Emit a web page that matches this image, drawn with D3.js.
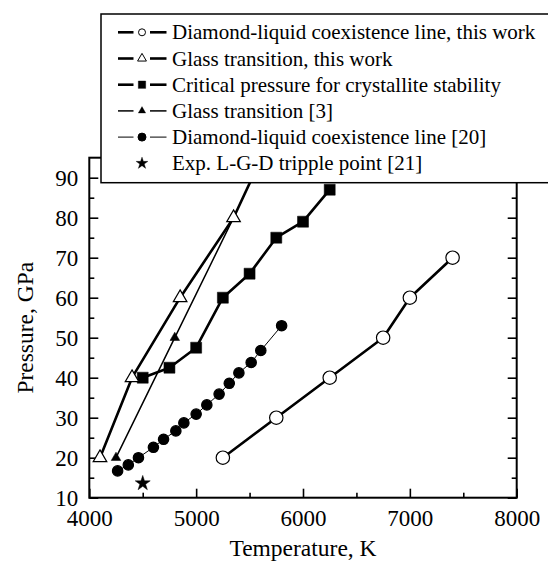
<!DOCTYPE html>
<html>
<head>
<meta charset="utf-8">
<script src="https://cdn.jsdelivr.net/npm/d3@7"></script>
<style>
  body { margin: 0; background: #fff; }
  svg { display: block; }
  svg text { font-family: "Liberation Serif", "Times New Roman", serif; }
</style>
</head>
<body>
<div id="chart"></div>
<script>
// Diamond-liquid coexistence line, this work
const dlThisT = [5250, 5750, 6250, 6750, 7000, 7400];
const dlThisP = [20, 30, 40, 50, 60, 70];
// Glass transition, this work (last point sits behind the legend)
const glThisT = [4100, 4400, 4850, 5350, 5700];
const glThisP = [20, 40, 60, 80, 100];
// Critical pressure for crystallite stability
const critT = [4500, 4750, 5000, 5250, 5500, 5750, 6000, 6250];
const critP = [40, 42.5, 47.5, 60, 66, 75, 79, 87];
// Glass transition [3]
const gl3T = [4250, 4800, 5350];
const gl3P = [20, 50, 80];
// Diamond-liquid coexistence line [20]
const dl20T = [4265, 4365, 4460, 4600, 4695, 4810, 4885, 5000, 5100, 5215, 5310, 5400, 5515, 5605, 5800];
const dl20P = [16.7, 18.2, 20.0, 22.6, 24.6, 26.7, 28.7, 30.9, 33.2, 35.9, 38.6, 41.2, 43.8, 46.8, 53.0];
// Exp. L-G-D triple point [21]
const expT = [4500];
const expP = [13.6];

const legendLabels = [
  "Diamond-liquid coexistence line, this work",
  "Glass transition, this work",
  "Critical pressure for crystallite stability",
  "Glass transition [3]",
  "Diamond-liquid coexistence line [20]",
  "Exp. L-G-D tripple point [21]"
];
const xTicks = [4000, 5000, 6000, 7000, 8000];
const yTicks = [10, 20, 30, 40, 50, 60, 70, 80, 90];

const zip = (t, p) => t.map((d, i) => ({ t: d, p: p[i] }));

const width = 548, height = 564;
const margin = { top: 157.7, right: 31.3, bottom: 66.3, left: 89.3 };
const iw = width - margin.left - margin.right;
const ih = height - margin.top - margin.bottom;

const x = d3.scaleLinear().domain([4000, 8000]).range([0, iw]);
const y = d3.scaleLinear().domain([10, 95]).range([ih, 0]);

const svg = d3.select("#chart").append("svg")
  .attr("width", width).attr("height", height);

const g = svg.append("g").attr("transform", `translate(${margin.left},${margin.top})`);

g.append("clipPath").attr("id", "clip")
  .append("rect").attr("width", iw).attr("height", ih);

// ticks (inward), majors and minors
const xMinor = d3.range(4500, 8000, 1000);
const yMinor = d3.range(15, 95, 10);

const serif = '"Liberation Serif", "Times New Roman", serif';
const styleAxis = sel => {
  sel.attr("font-family", serif).attr("font-size", 23);
  sel.select(".domain").remove();
  sel.selectAll("line").attr("stroke", "#000").attr("stroke-width", 1.6);
  sel.selectAll("text").attr("fill", "#000")
    .style("font-family", serif).style("font-size", "23px");
};

g.append("g").attr("transform", `translate(0,${ih})`)
  .call(d3.axisBottom(x).tickValues(xTicks).tickFormat(d3.format("d")).tickSize(-9).tickPadding(12))
  .call(styleAxis);
g.append("g").attr("transform", `translate(0,${ih})`)
  .call(d3.axisBottom(x).tickValues(xMinor).tickFormat("").tickSize(-5))
  .call(styleAxis);
g.append("g")
  .call(d3.axisLeft(y).tickValues(yTicks).tickSize(-9).tickPadding(11))
  .call(styleAxis);
g.append("g")
  .call(d3.axisLeft(y).tickValues(yMinor).tickFormat("").tickSize(-5))
  .call(styleAxis);
g.append("g").attr("transform", `translate(${iw},0)`)
  .call(d3.axisRight(y).tickValues(yTicks).tickFormat("").tickSize(-9))
  .call(styleAxis);
g.append("g").attr("transform", `translate(${iw},0)`)
  .call(d3.axisRight(y).tickValues(yMinor).tickFormat("").tickSize(-5))
  .call(styleAxis);

g.append("rect")
  .attr("width", iw).attr("height", ih)
  .attr("fill", "none").attr("stroke", "#000").attr("stroke-width", 2);

// series
const line = d3.line().x(d => x(d.t)).y(d => y(d.p));
const plot = g.append("g").attr("clip-path", "url(#clip)");

const series = [
  { data: zip(dlThisT, dlThisP), lw: 2.6, sym: "circle", fill: "#fff", size: 6.7, lsize: 3.5 },
  { data: zip(glThisT, glThisP), lw: 2.6, sym: d3.symbolTriangle, fill: "#fff", size: 80, lsize: 34 },
  { data: zip(critT, critP), lw: 2.6, sym: d3.symbolSquare, fill: "#000", size: 121, lsize: 56 },
  { data: zip(gl3T, gl3P), lw: 1.5, sym: d3.symbolTriangle, fill: "#000", size: 40, lsize: 24 },
  { data: zip(dl20T, dl20P), lw: 1, sym: "circle", fill: "#000", size: 5.2, lsize: 4 },
  { data: zip(expT, expP), lw: 0, sym: d3.symbolStar, fill: "#000", size: 70, lsize: 45 }
];

// draw order: thin series first, open markers on top
const order = [4, 3, 2, 0, 1, 5];
order.forEach(i => {
  const s = series[i];
  if (s.lw > 0) {
    plot.append("path").datum(s.data)
      .attr("d", line).attr("fill", "none")
      .attr("stroke", "#000").attr("stroke-width", s.lw)
      .attr("stroke-linejoin", "round");
  }
});
order.forEach(i => {
  const s = series[i];
  const mk = plot.append("g");
  if (s.sym === "circle") {
    mk.selectAll("circle").data(s.data).join("circle")
      .attr("cx", d => x(d.t)).attr("cy", d => y(d.p)).attr("r", s.size)
      .attr("fill", s.fill).attr("stroke", "#000").attr("stroke-width", 1.2);
  } else {
    mk.selectAll("path").data(s.data).join("path")
      .attr("transform", d => `translate(${x(d.t)},${y(d.p)})`)
      .attr("d", d3.symbol(s.sym, s.size))
      .attr("fill", s.fill).attr("stroke", "#000").attr("stroke-width", s.fill === "#fff" ? 1.2 : 0.5);
  }
});

// axis titles
svg.append("text")
  .attr("x", margin.left + iw / 2).attr("y", 556)
  .attr("text-anchor", "middle").attr("fill", "#000").style("font-size", "23.5px")
  .text("Temperature, K");
svg.append("text")
  .attr("transform", `translate(33,${margin.top + ih / 2}) rotate(-90)`)
  .attr("text-anchor", "middle").attr("fill", "#000").style("font-size", "23.5px")
  .text("Pressure, GPa");

// legend box (runs off the right edge)
const lg = svg.append("g").attr("transform", "translate(101,14)");
lg.append("rect")
  .attr("width", 460).attr("height", 168.7)
  .attr("fill", "#fff").attr("stroke", "#000").attr("stroke-width", 1.5);

series.forEach((s, i) => {
  const row = lg.append("g").attr("transform", `translate(0,${18.3 + i * 26.2})`);
  if (s.lw > 0) {
    row.append("line").attr("x1", 17).attr("x2", 32.5).attr("y1", 0).attr("y2", 0)
      .attr("stroke", "#000").attr("stroke-width", s.lw);
    row.append("line").attr("x1", 49).attr("x2", 65.5).attr("y1", 0).attr("y2", 0)
      .attr("stroke", "#000").attr("stroke-width", s.lw);
  }
  if (s.sym === "circle") {
    row.append("circle").attr("cx", 41).attr("cy", 0).attr("r", s.lsize)
      .attr("fill", s.fill).attr("stroke", "#000").attr("stroke-width", 1);
  } else {
    row.append("path").attr("transform", "translate(41,0)")
      .attr("d", d3.symbol(s.sym, s.lsize))
      .attr("fill", s.fill).attr("stroke", "#000").attr("stroke-width", s.fill === "#fff" ? 1 : 0.3);
  }
  row.append("text").attr("x", 71).attr("y", 0).attr("dy", "0.34em")
    .attr("fill", "#000").style("font-size", "21px").text(legendLabels[i]);
});
</script>
</body>
</html>
